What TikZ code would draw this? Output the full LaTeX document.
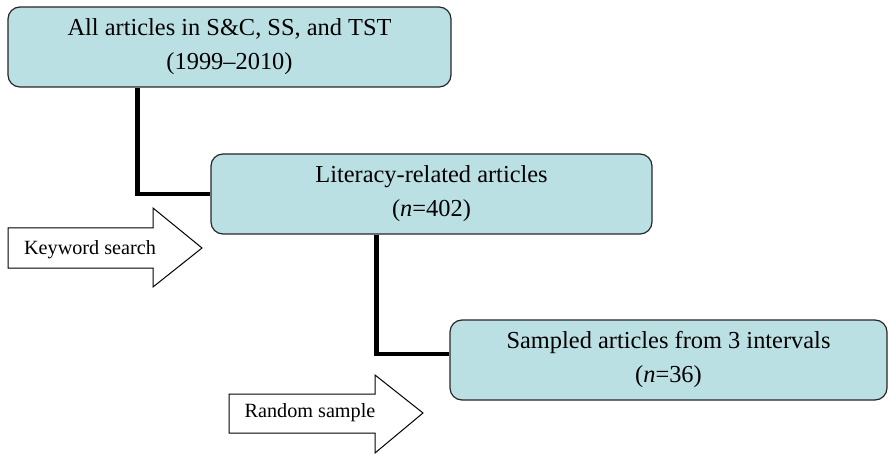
\documentclass[tikz,border=0pt]{standalone}
\usepackage{fontspec}
\setmainfont{Liberation Serif}
\usetikzlibrary{positioning}

\definecolor{stagefill}{RGB}{187,224,228}

\begin{document}
\begin{tikzpicture}[x=0.5pt,y=-0.5pt,align=center]
\tikzstyle{stage}=[draw=black!85,fill=stagefill,rounded corners=6pt,line width=0.6pt,
  minimum height=40pt,font=\fontsize{12.2}{17}\selectfont]
\tikzstyle{link}=[-,line width=2.2pt,black]
\tikzstyle{flow}=[draw=black,fill=white,line width=0.5pt]
\tikzstyle{flowtext}=[font=\fontsize{10.1}{12}\selectfont,inner sep=0pt]

\useasboundingbox (0,0) rectangle (888,454);

% boxes
\node[stage, minimum width=221.5pt] (all) at (229.5,47) {All articles in S\&C, SS, and TST\\(1999–2010)};
\node[stage, minimum width=220.5pt] (lit) at (431.5,194) {Literacy-related articles\\(\textit{n}=402)};
\node[stage, minimum width=218.5pt] (sam) at (668.5,360) {Sampled articles from 3 intervals\\(\textit{n}=36)};

% steps between boxes
\draw[link] ([xshift=65pt]all.south west) |- (lit.west);
\draw[link] ([xshift=83pt]lit.south west) |- ([yshift=3pt]sam.west);

% block arrows
\draw[flow] (8,228) -- (153,228) -- (153,208) -- (202,248) -- (153,287) -- (153,268) -- (8,268) -- cycle;
\node[flowtext] (kw) at (90,250) {Keyword search};

\draw[flow] (229,394) -- (375,394) -- (375,375) -- (423,413) -- (375,453) -- (375,433) -- (229,433) -- cycle;
\node[flowtext] (rs) at (310,413) {Random sample};
\end{tikzpicture}
\end{document}
